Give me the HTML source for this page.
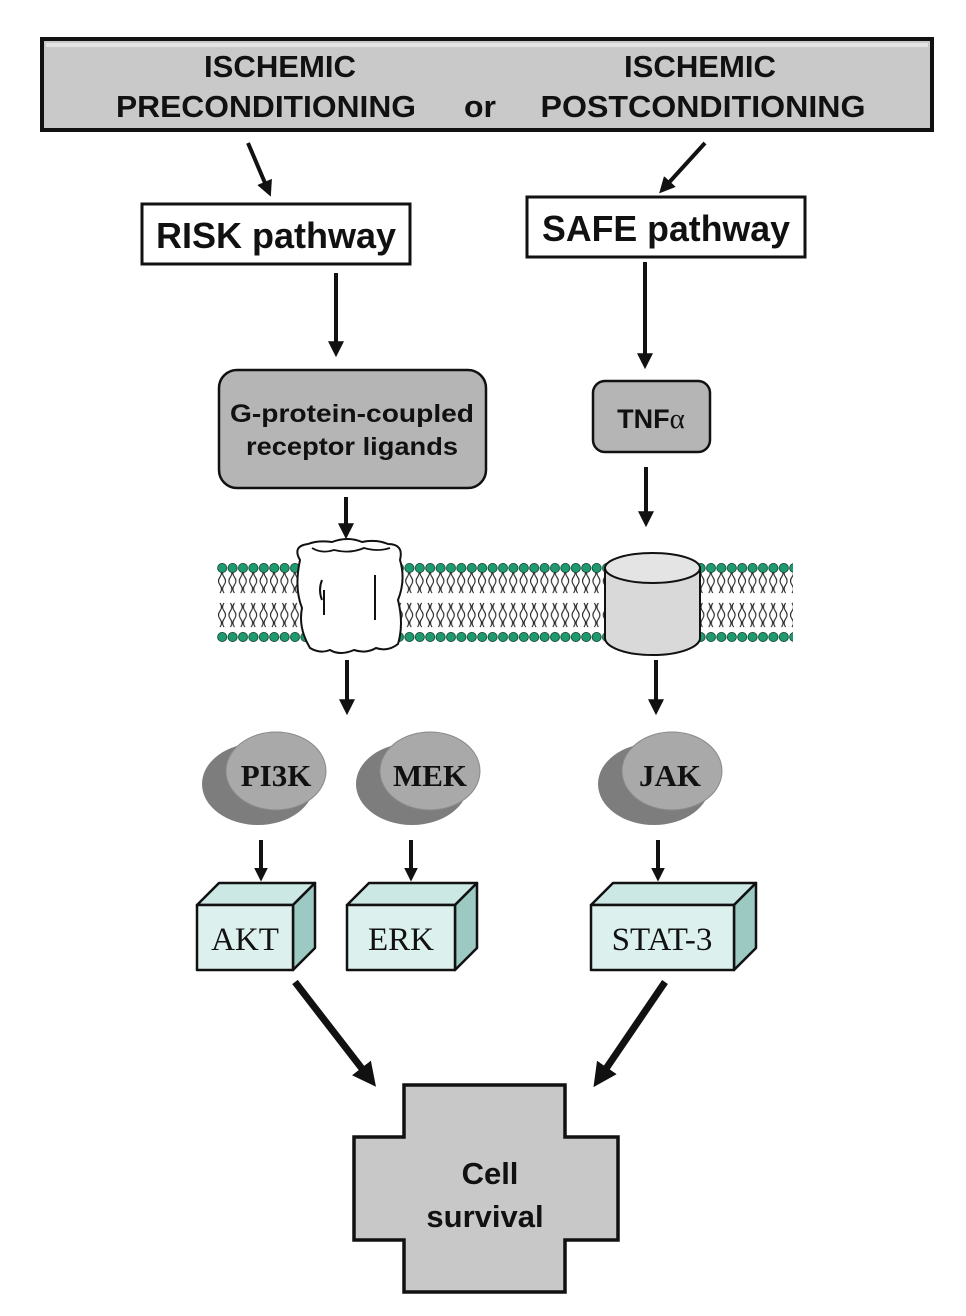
<!DOCTYPE html>
<html><head><meta charset="utf-8"><style>
html,body{margin:0;padding:0;background:#fff;}
svg{display:block;}
text{font-family:"Liberation Sans",Arial,sans-serif;font-weight:bold;fill:#111;}
.s{font-family:"Liberation Serif","Times New Roman",serif;}
.n{font-weight:normal;}
</style></head><body>
<svg width="966" height="1316" viewBox="0 0 966 1316" xmlns="http://www.w3.org/2000/svg">
<defs>
<marker id="ah" markerWidth="4" markerHeight="4" refX="2.2" refY="2" orient="auto" markerUnits="strokeWidth">
<path d="M0,0 L4,2 L0,4 z" fill="#111"/></marker>
<marker id="ah2" markerWidth="3.4" markerHeight="3.4" refX="2" refY="1.7" orient="auto" markerUnits="strokeWidth">
<path d="M0,0 L3.4,1.7 L0,3.4 z" fill="#111"/></marker>
<pattern id="lip" x="217" y="560" width="10.4" height="84" patternUnits="userSpaceOnUse">
<path d="M3,9 q3,4 0,8 q-3,4 0,8 q3,4 0,8 M7,9 q-3,4 0,8 q3,4 0,8 q-3,4 0,8 M3,43 q3,4 0,8 q-3,4 0,8 q3,4 0,8 M7,43 q-3,4 0,8 q3,4 0,8 q-3,4 0,8" stroke="#222" stroke-width="1.1" fill="none"/>
<circle cx="5.2" cy="8" r="4.6" fill="#1e9a6e" stroke="#0c3a28" stroke-width="0.8"/>
<circle cx="5.2" cy="77" r="4.6" fill="#1e9a6e" stroke="#0c3a28" stroke-width="0.8"/>
</pattern>
</defs>

<rect x="42" y="39" width="890" height="91" fill="#c9c9c9" stroke="#111" stroke-width="4"/>
<rect x="46" y="43" width="882" height="4" fill="#e4e4e4"/>
<text x="280" y="77" font-size="31" text-anchor="middle" textLength="152" lengthAdjust="spacingAndGlyphs">ISCHEMIC</text>
<text x="700" y="77" font-size="31" text-anchor="middle" textLength="152" lengthAdjust="spacingAndGlyphs">ISCHEMIC</text>
<text x="266" y="117" font-size="31" text-anchor="middle" textLength="300" lengthAdjust="spacingAndGlyphs">PRECONDITIONING</text>
<text x="480" y="117" font-size="31" text-anchor="middle" textLength="32" lengthAdjust="spacingAndGlyphs">or</text>
<text x="703" y="117" font-size="31" text-anchor="middle" textLength="325" lengthAdjust="spacingAndGlyphs">POSTCONDITIONING</text>

<line x1="248" y1="143" x2="268" y2="190" stroke="#111" stroke-width="4" marker-end="url(#ah)"/>
<line x1="705" y1="143" x2="664" y2="188" stroke="#111" stroke-width="4" marker-end="url(#ah)"/>

<rect x="142" y="204" width="268" height="60" fill="#fff" stroke="#111" stroke-width="3"/>
<text x="276" y="248" font-size="36" text-anchor="middle" textLength="240" lengthAdjust="spacingAndGlyphs">RISK pathway</text>
<rect x="527" y="197" width="278" height="60" fill="#fff" stroke="#111" stroke-width="3"/>
<text x="666" y="241" font-size="36" text-anchor="middle" textLength="248" lengthAdjust="spacingAndGlyphs">SAFE pathway</text>

<line x1="336" y1="273" x2="336" y2="350" stroke="#111" stroke-width="4" marker-end="url(#ah)"/>
<line x1="645" y1="262" x2="645" y2="362" stroke="#111" stroke-width="4" marker-end="url(#ah)"/>

<rect x="219" y="370" width="267" height="118" rx="18" fill="#b5b5b5" stroke="#111" stroke-width="2.5"/>
<text x="352" y="422" font-size="25" text-anchor="middle" textLength="244" lengthAdjust="spacingAndGlyphs">G-protein-coupled</text>
<text x="352" y="455" font-size="25" text-anchor="middle" textLength="212" lengthAdjust="spacingAndGlyphs">receptor ligands</text>
<rect x="593" y="381" width="117" height="71" rx="12" fill="#b5b5b5" stroke="#111" stroke-width="2.5"/>
<text x="651" y="428" font-size="27" text-anchor="middle">TNF<tspan class="s n" font-size="29">α</tspan></text>

<line x1="346" y1="497" x2="346" y2="532" stroke="#111" stroke-width="4" marker-end="url(#ah)"/>
<line x1="646" y1="467" x2="646" y2="520" stroke="#111" stroke-width="4" marker-end="url(#ah)"/>

<rect x="217" y="560" width="576" height="84" fill="url(#lip)"/>
<path d="M300,560 q-8,-14 8,-16 q10,-4 24,-2 q16,-6 30,0 q14,-3 26,2 q16,0 12,16 q6,20 -2,40 q6,24 0,44 q-10,8 -22,4 q-10,6 -22,2 q-14,6 -24,0 q-10,4 -20,-2 q-12,-20 -8,-40 q-8,-20 -2,-48 z" fill="#fff" stroke="#111" stroke-width="2"/>
<path d="M312,548 q10,6 22,2 q16,4 30,-2 q14,4 26,0" stroke="#111" stroke-width="1.8" fill="none"/>
<path d="M322,580 q-4,10 0,20 M324,590 v25 M375,575 v45" stroke="#111" stroke-width="2" fill="none"/>
<path d="M605,568 v70 a47.5,17 0 0 0 95,0 v-70 z" fill="#d9d9d9" stroke="#111" stroke-width="2"/>
<ellipse cx="652.5" cy="568" rx="47.5" ry="15" fill="#e4e4e4" stroke="#111" stroke-width="2"/>

<line x1="347" y1="660" x2="347" y2="708" stroke="#111" stroke-width="4" marker-end="url(#ah)"/>
<line x1="656" y1="660" x2="656" y2="708" stroke="#111" stroke-width="4" marker-end="url(#ah)"/>

<ellipse cx="258" cy="784" rx="56" ry="41" fill="#7d7d7d"/>
<ellipse cx="276" cy="771" rx="50" ry="39" fill="#a9a9a9" stroke="#8a8a8a" stroke-width="1"/>
<ellipse cx="412" cy="784" rx="56" ry="41" fill="#7d7d7d"/>
<ellipse cx="430" cy="771" rx="50" ry="39" fill="#a9a9a9" stroke="#8a8a8a" stroke-width="1"/>
<ellipse cx="654" cy="784" rx="56" ry="41" fill="#7d7d7d"/>
<ellipse cx="672" cy="771" rx="50" ry="39" fill="#a9a9a9" stroke="#8a8a8a" stroke-width="1"/>
<text class="s" x="276" y="786" font-size="31" text-anchor="middle">PI3K</text>
<text class="s" x="430" y="786" font-size="31" text-anchor="middle">MEK</text>
<text class="s" x="670" y="786" font-size="31" text-anchor="middle">JAK</text>

<line x1="261" y1="840" x2="261" y2="876" stroke="#111" stroke-width="4" marker-end="url(#ah2)"/>
<line x1="411" y1="840" x2="411" y2="876" stroke="#111" stroke-width="4" marker-end="url(#ah2)"/>
<line x1="658" y1="840" x2="658" y2="876" stroke="#111" stroke-width="4" marker-end="url(#ah2)"/>

<g stroke="#111" stroke-width="2.5" stroke-linejoin="round">
<path d="M197,905 l22,-22 h96 l-22,22 z" fill="#cce8e4"/>
<path d="M293,905 l22,-22 v65 l-22,22 z" fill="#9cc9c2"/>
<rect x="197" y="905" width="96" height="65" fill="#dcf1ee"/>
<path d="M347,905 l22,-22 h108 l-22,22 z" fill="#cce8e4"/>
<path d="M455,905 l22,-22 v65 l-22,22 z" fill="#9cc9c2"/>
<rect x="347" y="905" width="108" height="65" fill="#dcf1ee"/>
<path d="M591,905 l22,-22 h143 l-22,22 z" fill="#cce8e4"/>
<path d="M734,905 l22,-22 v65 l-22,22 z" fill="#9cc9c2"/>
<rect x="591" y="905" width="143" height="65" fill="#dcf1ee"/>
</g>
<text class="s n" x="245" y="950" font-size="33" text-anchor="middle">AKT</text>
<text class="s n" x="401" y="950" font-size="33" text-anchor="middle">ERK</text>
<text class="s n" x="662" y="950" font-size="33" text-anchor="middle">STAT-3</text>

<line x1="295" y1="982" x2="370" y2="1079" stroke="#111" stroke-width="7" marker-end="url(#ah2)"/>
<line x1="665" y1="982" x2="599" y2="1079" stroke="#111" stroke-width="7" marker-end="url(#ah2)"/>

<path d="M404,1085 h161 v52 h53 v103 h-53 v52 h-161 v-52 h-50 v-103 h50 z" fill="#c8c8c8" stroke="#111" stroke-width="3.5"/>
<text x="490" y="1184" font-size="31" text-anchor="middle">Cell</text>
<text x="485" y="1227" font-size="31" text-anchor="middle">survival</text>
</svg>
</body></html>
